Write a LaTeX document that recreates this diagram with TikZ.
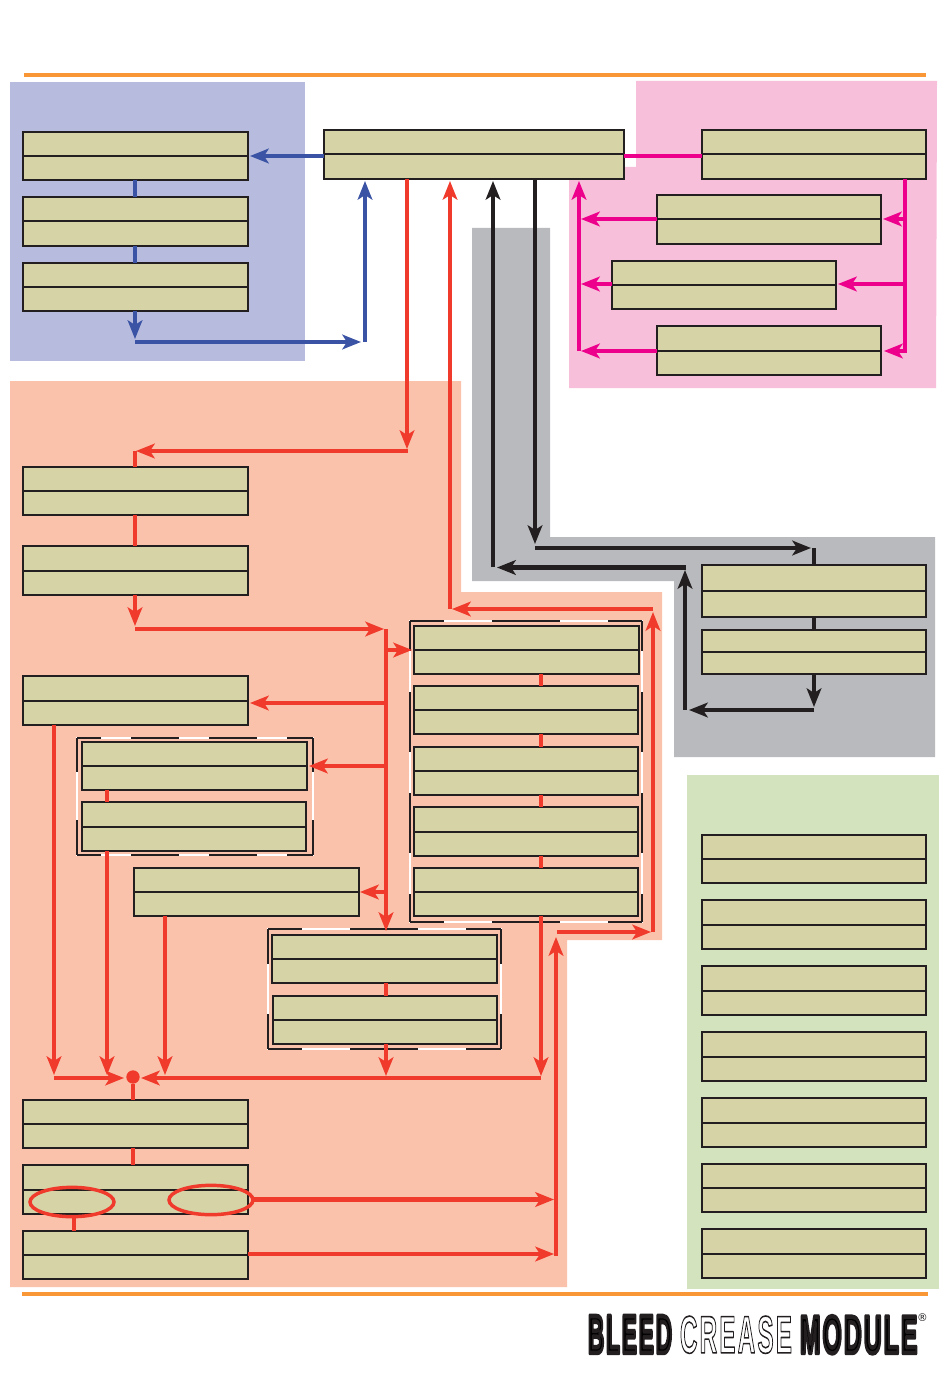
\documentclass[tikz,border=0pt]{standalone}
\usepackage{fontspec}
\usetikzlibrary{arrows.meta,shapes.geometric}
\setmainfont{Liberation Sans}
\newfontfamily\logofont{Liberation Sans}[LetterSpace=9]
\newfontfamily\regfont{DejaVu Sans}
\definecolor{zblue}{HTML}{B7BBDD}
\definecolor{zpink}{HTML}{F8BFDA}
\definecolor{zgrey}{HTML}{B9BABD}
\definecolor{zsalmon}{HTML}{FBC2AB}
\definecolor{zgreen}{HTML}{D2E3BE}
\definecolor{boxfill}{HTML}{D6D3A7}
\definecolor{ink}{HTML}{231F20}
\definecolor{lblue}{HTML}{3A53A4}
\definecolor{lred}{HTML}{EF3A2C}
\definecolor{lpink}{HTML}{EC008C}
\definecolor{rule}{HTML}{F99736}
\tikzset{
  stagebox/.style={draw=ink,fill=boxfill,line width=1.5pt,inner sep=0pt,outer sep=0pt},
  midline/.style={draw=ink,line width=1.5pt},
  arw/.style={-{Stealth[length=14pt,width=11pt,inset=3.5pt]}},
  blueline/.style={draw=lblue,line width=3.1pt},
  redline/.style={draw=lred,line width=3.1pt},
  pinkline/.style={draw=lpink,line width=3.1pt},
  inkline/.style={draw=ink,line width=3.1pt},
  loop/.style={draw=lred,line width=2.6pt,ellipse},
  frameb/.style={draw=ink,line width=1.5pt},
  framew/.style={draw=white,line width=1.5pt},
  logo/.style={inner sep=0pt,outer sep=0pt,anchor=north west},
}
% name, x1, y1, x2, y2 in reference pixels
\newcommand\stagebx[5]{%
  \pgfmathsetmacro\bw{(#4-#2)*0.75}\pgfmathsetmacro\bh{(#5-#3)*0.75}%
  \node[stagebox,minimum width=\bw pt,minimum height=\bh pt] (#1) at ({(#2+#4)/2},{(#3+#5)/2}) {};
  \draw[midline] (#1.west) -- (#1.east);
}
% broken frame: x1,y1,x2,y2, horizontal on, off, vertical on, off
\newcommand\brokenframe[8]{%
  \draw[framew] (#1,#2) rectangle (#3,#4);
  \pgfmathsetmacro\hon{#5*0.75}\pgfmathsetmacro\hoff{#6*0.75}\pgfmathsetmacro\hph{#5*0.375}%
  \pgfmathsetmacro\von{#7*0.75}\pgfmathsetmacro\voff{#8*0.75}\pgfmathsetmacro\vph{#7*0.375}%
  \draw[frameb,dash pattern=on \hon pt off \hoff pt,dash phase=\hph pt] (#1,#2) -- (#3,#2);
  \draw[frameb,dash pattern=on \hon pt off \hoff pt,dash phase=\hph pt] (#1,#4) -- (#3,#4);
  \draw[frameb,dash pattern=on \von pt off \voff pt,dash phase=\vph pt] (#1,#2) -- (#1,#4);
  \draw[frameb,dash pattern=on \von pt off \voff pt,dash phase=\vph pt] (#3,#2) -- (#3,#4);
}
\newcommand\logosolid[1]{{\special{pdf:code 2 Tr 0.85 w 1 j 0.137 0.122 0.125 RG}\logofont\bfseries #1\special{pdf:code 0 Tr}}}
\newcommand\logoopen[1]{{\color{white}\special{pdf:code 2 Tr 0.3 w 1 j 0.137 0.122 0.125 RG}\logofont\bfseries #1\special{pdf:code 0 Tr}}}
\begin{document}
\begin{tikzpicture}[x=0.75pt,y=-0.75pt]
\useasboundingbox (0,0) rectangle (950,1387);
% zones
\fill[zblue] (10,82) rectangle (305,361);
\fill[zpink] (636,81) -- (937,81) -- (936,388) -- (569,388) -- (569,167) -- (636,167) -- cycle;
\fill[zgrey] (472,228) -- (550,228) -- (550,537) -- (935,537) -- (935,757) -- (674,757) -- (674,581) -- (472,581) -- cycle;
\fill[zsalmon] (10,381) -- (461,381) -- (461,592) -- (662,592) -- (662,940) -- (567,940) -- (567,1287) -- (10,1287) -- cycle;
\fill[zgreen] (687,775) rectangle (939,1289);
% rules
\fill[rule] (24,73) rectangle (926,77);
\fill[rule] (22,1292) rectangle (928,1296);
% group frames
\brokenframe{410}{621}{642}{922}{68}{48}{60}{41}
\brokenframe{77}{738}{313}{855}{48}{30}{68}{48}
\brokenframe{268}{929}{501}{1049}{68}{48}{70}{50}
% boxes
\stagebx{C}{324}{130}{624}{179}
\stagebx{A1}{23}{132}{248}{180}
\stagebx{A2}{23}{197}{248}{246}
\stagebx{A3}{23}{263}{248}{311}
\stagebx{P1}{702}{130}{926}{179}
\stagebx{P2}{657}{195}{881}{244}
\stagebx{P3}{612}{261}{836}{309}
\stagebx{P4}{657}{326}{881}{375}
\stagebx{G1}{702}{565}{926}{617}
\stagebx{G2}{702}{630}{926}{674}
\stagebx{D1}{702}{835}{926}{883}
\stagebx{D2}{702}{900}{926}{949}
\stagebx{D3}{702}{966}{926}{1015}
\stagebx{D4}{702}{1032}{926}{1081}
\stagebx{D5}{702}{1098}{926}{1147}
\stagebx{D6}{702}{1164}{926}{1212}
\stagebx{D7}{702}{1229}{926}{1278}
\stagebx{S1}{23}{467}{248}{515}
\stagebx{S2}{23}{546}{248}{595}
\stagebx{S3}{23}{676}{248}{725}
\stagebx{T1}{82}{742}{307}{790}
\stagebx{T2}{82}{802}{306}{851}
\stagebx{S6}{134}{868}{359}{916}
\stagebx{U1}{272}{935}{497}{983}
\stagebx{U2}{273}{996}{497}{1044}
\stagebx{V1}{414}{626}{639}{674}
\stagebx{V2}{414}{686}{638}{734}
\stagebx{V3}{414}{747}{638}{795}
\stagebx{V4}{414}{807}{638}{856}
\stagebx{V5}{414}{868}{638}{916}
\stagebx{S7}{23}{1100}{248}{1148}
\stagebx{S8}{23}{1165}{248}{1214}
\stagebx{S9}{23}{1231}{248}{1279}
% blue connectors
\coordinate (ba) at (250,156);
\coordinate (bb) at (135,339);
\coordinate (bc) at (135,342);
\coordinate (bd) at (361,342);
\coordinate (be) at (365,342);
\coordinate (bf) at (365,181);
\draw[blueline,arw] (C.west |- ba) -- (ba);
\draw[blueline] (A1.south -| bb) -- (A2.north -| bb);
\draw[blueline] (A2.south -| bb) -- (A3.north -| bb);
\draw[blueline,arw] (A3.south -| bb) -- (bb);
\draw[blueline,arw] (bc) -- (bd);
\draw[blueline,arw] (be) -- (bf);
% pink connectors
\coordinate (pa) at (905,351);
\coordinate (pb) at (884,351);
\coordinate (pc) at (883,219);
\coordinate (pd) at (838,284);
\coordinate (pe) at (581,219);
\coordinate (pf) at (581,284);
\coordinate (pg) at (581,351);
\coordinate (ph) at (579,351);
\coordinate (pi) at (579,181);
\draw[pinkline] (C.east |- 0,156) -- (P1.west |- 0,156);
\draw[pinkline,arw,line join=miter] (P1.south -| pa) -- (pa) -- (pb);
\draw[pinkline,arw] (pa |- pc) -- (pc);
\draw[pinkline,arw] (pa |- pd) -- (pd);
\draw[pinkline,arw] (P2.west |- pe) -- (pe);
\draw[pinkline,arw] (P3.west |- pf) -- (pf);
\draw[pinkline,arw] (P4.west |- pg) -- (pg);
\draw[pinkline,arw] (ph) -- (pi);
% black connectors
\coordinate (ka) at (535,544);
\coordinate (kb) at (535,548);
\coordinate (kc) at (811,548);
\coordinate (kd) at (814,548);
\coordinate (ke) at (814,707);
\coordinate (kf) at (814,710);
\coordinate (kg) at (689,710);
\coordinate (kh) at (685,710);
\coordinate (ki) at (685,570);
\coordinate (kj) at (686,567.5);
\coordinate (kk) at (497,567.5);
\coordinate (kl) at (493,567);
\coordinate (km) at (493,181);
\draw[inkline,arw] (C.south -| ka) -- (ka);
\draw[inkline,arw] (kb) -- (kc);
\draw[inkline] (kd) -- (G1.north -| kd);
\draw[inkline] (G1.south -| kd) -- (G2.north -| kd);
\draw[inkline,arw] (G2.south -| ke) -- (ke);
\draw[inkline,arw] (kf) -- (kg);
\draw[inkline,arw] (kh) -- (ki);
\draw[inkline,arw] (kj) -- (kk);
\draw[inkline,arw] (kl) -- (km);
% red connectors
\coordinate (ra) at (407,449);
\coordinate (rb) at (408,451);
\coordinate (rc) at (136,451);
\coordinate (rd) at (135,451);
\coordinate (re) at (135,626);
\coordinate (rf) at (135,629);
\coordinate (rg) at (384,629);
\coordinate (rh) at (386,629);
\coordinate (ri) at (386,931);
\coordinate (rj) at (412,650);
\coordinate (rk) at (250,703);
\coordinate (rl) at (309,766);
\coordinate (rm) at (360,892);
\coordinate (rn) at (386,1076);
\coordinate (ro) at (541,1076);
\coordinate (rp) at (54,1075);
\coordinate (rq) at (107,1075);
\coordinate (rr) at (165,1075);
\coordinate (rs) at (54,1078);
\coordinate (rt) at (124,1078);
\coordinate (ru) at (541,1078);
\coordinate (rv) at (141,1078);
\draw[redline,arw] (C.south -| ra) -- (ra);
\draw[redline,arw] (rb) -- (rc);
\draw[redline] (rd) -- (S1.north -| rd);
\draw[redline] (S1.south -| rd) -- (S2.north -| rd);
\draw[redline,arw] (S2.south -| re) -- (re);
\draw[redline,arw] (rf) -- (rg);
\draw[redline,arw] (rh) -- (ri);
\draw[redline,arw] (rh |- rj) -- (rj);
\draw[redline,arw] (rh |- rk) -- (rk);
\draw[redline,arw] (rh |- rl) -- (rl);
\draw[redline,arw] (rh |- rm) -- (rm);
\draw[redline] (U1.south -| rn) -- (U2.north -| rn);
\draw[redline,arw] (U2.south -| rn) -- (rn);
\draw[redline] (V1.south -| ro) -- (V2.north -| ro);
\draw[redline] (V2.south -| ro) -- (V3.north -| ro);
\draw[redline] (V3.south -| ro) -- (V4.north -| ro);
\draw[redline] (V4.south -| ro) -- (V5.north -| ro);
\draw[redline,arw] (V5.south -| ro) -- (ro);
\draw[redline,arw] (S3.south -| rp) -- (rp);
\draw[redline] (T1.south -| rq) -- (T2.north -| rq);
\draw[redline,arw] (T2.south -| rq) -- (rq);
\draw[redline,arw] (S6.south -| rr) -- (rr);
\draw[redline,arw] (rs) -- (rt);
\draw[redline,arw] (ru) -- (rv);
\node[circle,fill=lred,inner sep=0pt,outer sep=0pt,minimum size=10pt] (dot) at (133,1077) {};
\draw[redline] (dot.south) -- (S7.north -| dot.south);
\draw[redline] (S7.south -| dot.south) -- (S8.north -| dot.south);
\node[loop,inner sep=0pt,outer sep=0pt,minimum width=63pt,minimum height=22pt] (E1) at (72,1202) {};
\node[loop,inner sep=0pt,outer sep=0pt,minimum width=63pt,minimum height=22pt] (E2) at (211,1200) {};
\coordinate (rw) at (74,1231);
\coordinate (rx) at (554,1199.5);
\coordinate (ry) at (554,1254);
\coordinate (rz) at (556,1256);
\coordinate (sa) at (556,937);
\coordinate (sb) at (557,932);
\coordinate (sc) at (651,932);
\coordinate (sd) at (653,932);
\coordinate (se) at (653,612);
\coordinate (sf) at (653,609);
\coordinate (sg) at (452,609);
\coordinate (sh) at (450,609);
\coordinate (si) at (450,181);
\draw[redline] (E1.south -| rw) -- (rw);
\draw[redline,arw] (E2.east |- rx) -- (rx);
\draw[redline,arw] (S9.east |- ry) -- (ry);
\draw[redline,arw] (rz) -- (sa);
\draw[redline,arw] (sb) -- (sc);
\draw[redline,arw] (sd) -- (se);
\draw[redline,arw] (sf) -- (sg);
\draw[redline,arw] (sh) -- (si);
% logo
\node[logo] (L1) at (588,1316) {\resizebox{63pt}{27.7pt}{\logosolid{BLEED}}};
\node[logo] (L2) at (680,1316) {\resizebox{84pt}{27.7pt}{\logoopen{CREASE}}};
\node[logo] (L3) at (800,1316) {\resizebox{88pt}{27.7pt}{\logosolid{MODULE}}};
\node[logo,text=ink] (L4) at (917,1314) {\regfont\fontsize{8pt}{8pt}\selectfont ®};
\end{tikzpicture}
\end{document}
